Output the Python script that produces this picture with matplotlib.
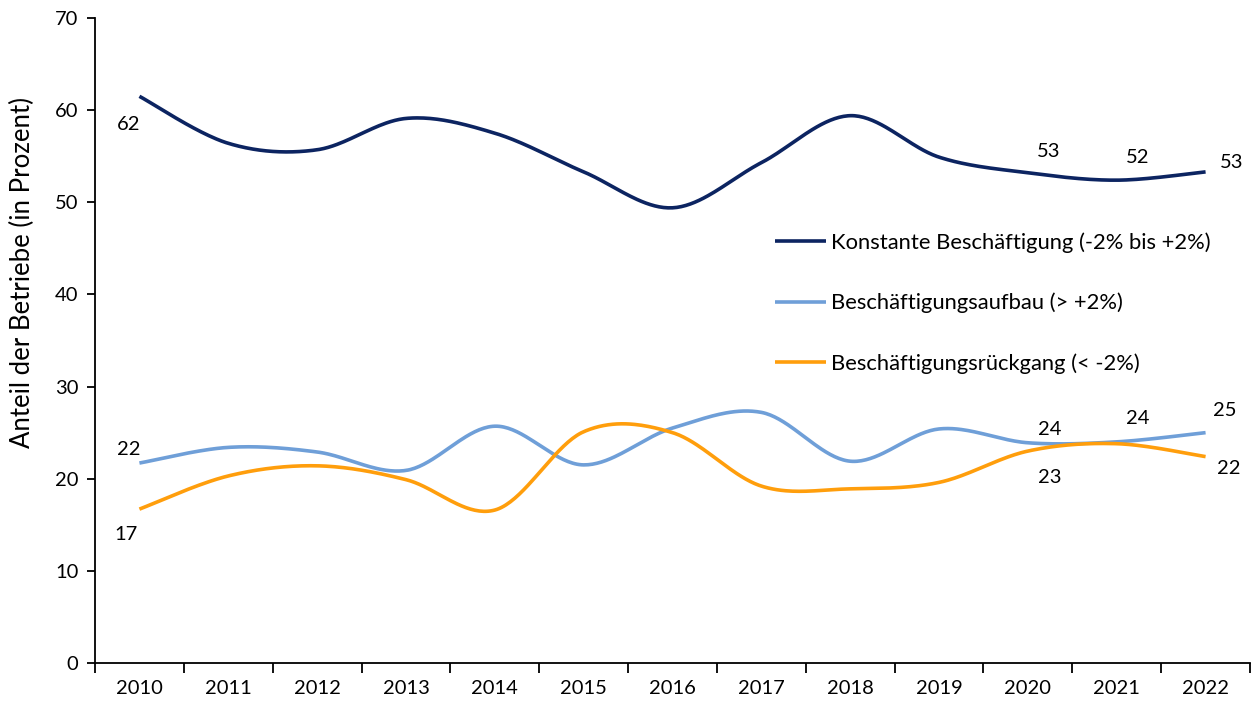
import numpy as np
import matplotlib
matplotlib.use("Agg")
import matplotlib.pyplot as plt

plt.rcParams['font.family'] = ['Lato', 'DejaVu Sans']

years = ["2010", "2011", "2012", "2013", "2014", "2015", "2016",
         "2017", "2018", "2019", "2020", "2021", "2022"]
konstant = [61.5, 56.4, 55.7, 59.1, 57.5, 53.3, 49.4, 54.3, 59.4, 54.9, 53.2, 52.4, 53.3]
aufbau = [21.7, 23.4, 22.9, 20.9, 25.7, 21.5, 25.5, 27.2, 21.9, 25.4, 23.9, 24.0, 25.0]
rueckgang = [16.7, 20.3, 21.4, 19.9, 16.6, 25.1, 25.0, 19.2, 18.9, 19.6, 23.0, 23.8, 22.4]

names = ["Konstante Beschäftigung (-2% bis +2%)",
         "Beschäftigungsaufbau (> +2%)",
         "Beschäftigungsrückgang (< -2%)"]
colors = ["#0c2461", "#6f9fd8", "#ff9e0c"]

# labels: (series index, year index, text, dx, dy in points)
labels = [
    (0, 0, "62", -8, -20),
    (1, 0, "22", -8, 9.5),
    (2, 0, "17", -10, -18),
    (0, 10, "53", 15, 15),
    (1, 10, "24", 16, 9.5),
    (2, 10, "23", 16, -19),
    (0, 11, "52", 15, 16),
    (1, 11, "24", 15, 16.5),
    (0, 12, "53", 18.5, 6.5),
    (1, 12, "25", 13.7, 16),
    (2, 12, "22", 17, -8.6),
]


def smooth(y, n=40):
    y = np.asarray(y, dtype=float)
    x = np.arange(len(y), dtype=float)
    pts = np.column_stack([x, y])
    out = []
    for i in range(len(pts) - 1):
        p0 = pts[i - 1] if i > 0 else pts[i]
        p1 = pts[i]
        p2 = pts[i + 1]
        p3 = pts[i + 2] if i + 2 < len(pts) else pts[i + 1]
        c1 = p1 + (p2 - p0) / 6.0
        c2 = p2 - (p3 - p1) / 6.0
        t = np.linspace(0, 1, n, endpoint=(i == len(pts) - 2))[:, None]
        b = ((1 - t) ** 3) * p1 + 3 * ((1 - t) ** 2) * t * c1 + 3 * (1 - t) * t ** 2 * c2 + t ** 3 * p2
        out.append(b)
    out = np.vstack(out)
    return out[:, 0], out[:, 1]


fig = plt.figure(figsize=(12.55, 7.06), dpi=100)
ax = fig.add_axes([95 / 1255, 43 / 706, 1155 / 1255, 645 / 706])

series = [konstant, aufbau, rueckgang]
handles = []
for s, c, nm in zip(series, colors, names):
    xs, ys = smooth(s)
    h, = ax.plot(xs, ys, color=c, lw=2.6, solid_capstyle='butt', label=nm)
    handles.append(h)

for si, yi, txt, dx, dy in labels:
    ax.annotate(txt, (yi, series[si][yi]), xytext=(dx, dy), textcoords='offset points',
                ha='center', va='center', fontsize=14.5, color='black')

ax.set_xlim(-0.5, len(years) - 0.5)
ax.set_ylim(0, 70)
ax.set_yticks(range(0, 71, 10))
ax.tick_params(axis='y', labelsize=14.5, length=6, width=1.3, direction='out', pad=6)
ax.set_xticks(range(len(years)))
ax.set_xticklabels(years, fontsize=14.5)
ax.set_xticks(np.arange(-0.5, len(years), 1.0), minor=True)
ax.tick_params(axis='x', which='major', length=0, pad=12)
ax.tick_params(axis='x', which='minor', length=7, width=1.3, direction='out')
for side in ['top', 'right']:
    ax.spines[side].set_visible(False)
for side in ['left', 'bottom']:
    ax.spines[side].set_linewidth(1.3)
ax.set_ylabel("Anteil der Betriebe (in Prozent)", fontsize=18.5, va='center')
ax.yaxis.set_label_coords(-0.063, 0.606)

ax.legend(handles=handles, loc='center left', bbox_to_anchor=(0.581, 0.558), frameon=False,
          fontsize=15.8, handlelength=2.33, handletextpad=0.23, labelspacing=1.81,
          borderaxespad=0)

fig.savefig("out.png", dpi=100)
